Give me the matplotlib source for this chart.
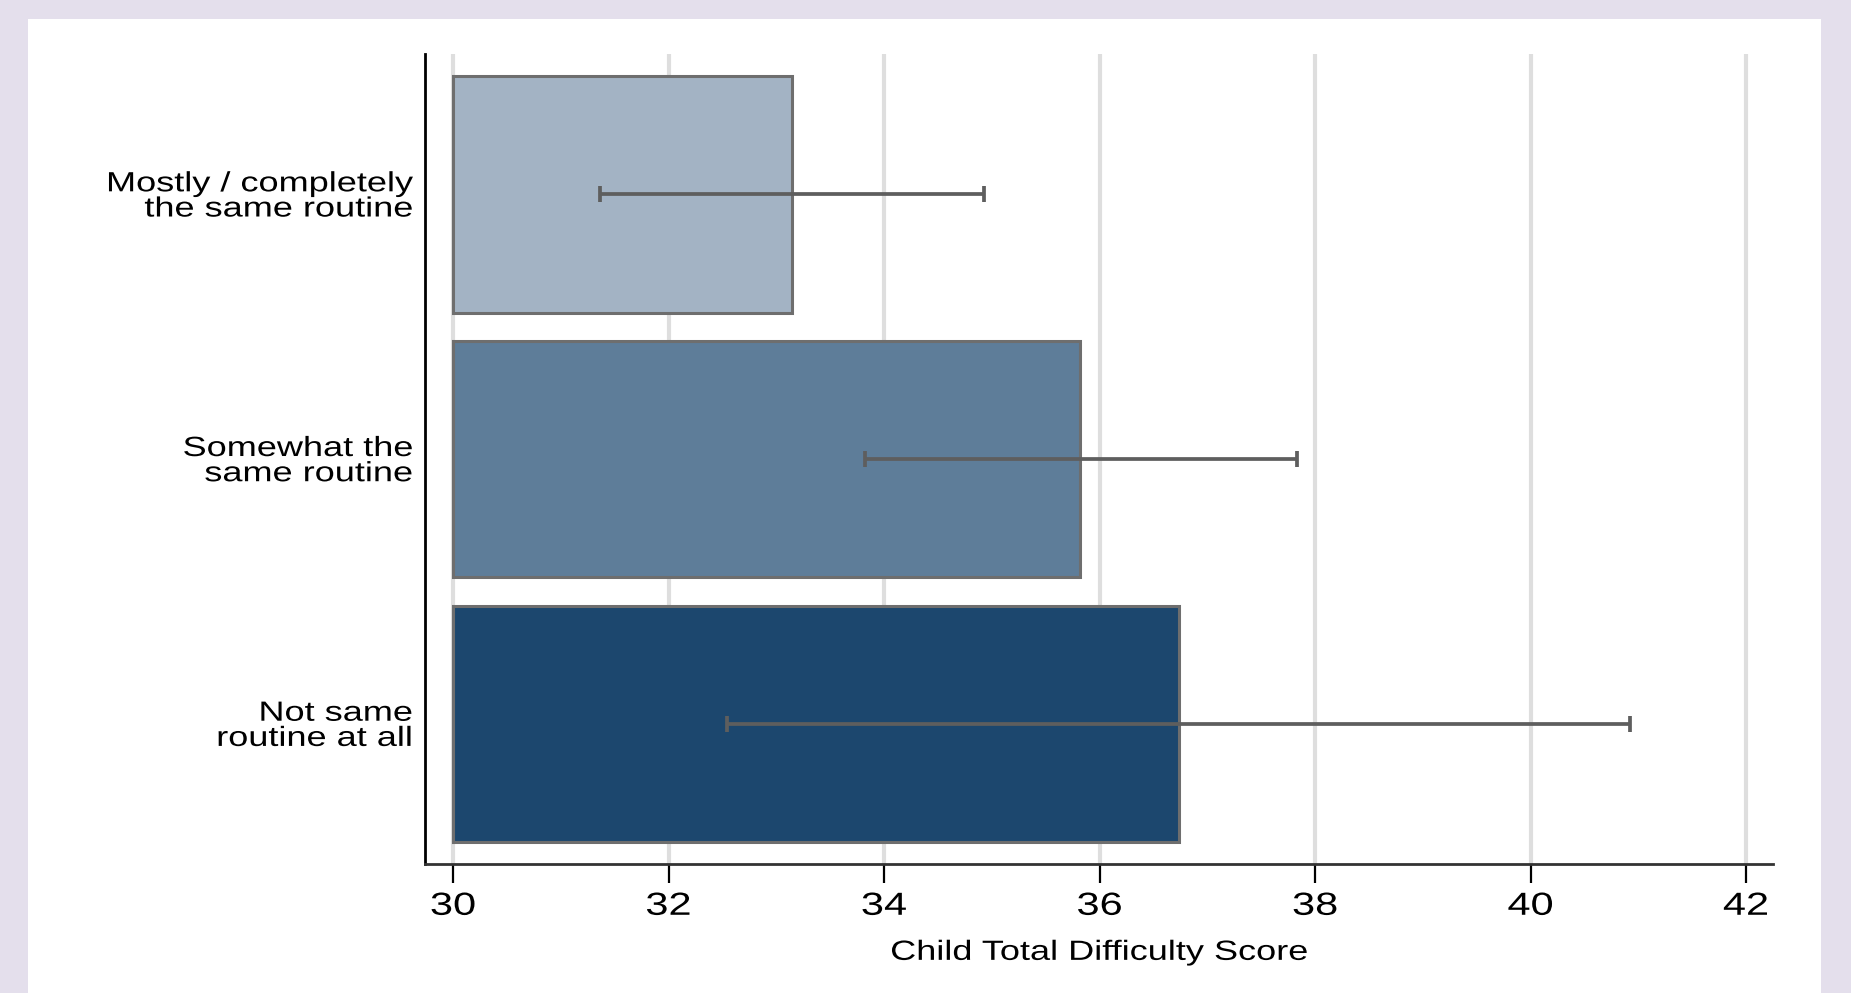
import matplotlib
matplotlib.use("Agg")
import matplotlib.pyplot as plt
from matplotlib.patches import Rectangle
from matplotlib.patheffects import AbstractPathEffect
from matplotlib.transforms import Affine2D

plt.rcParams["font.family"] = ["Liberation Sans", "DejaVu Sans"]

# mean score per routine group with 95% CI
groups = ["Mostly / completely\nthe same routine",
          "Somewhat the\nsame routine",
          "Not same\nroutine at all"]
means = [33.15, 35.82, 36.74]
ci_low = [31.36, 33.82, 32.54]
ci_high = [34.93, 37.83, 40.92]
bar_colors = ["#a3b3c4", "#5e7d99", "#1c476e"]
xticks = [30, 32, 34, 36, 38, 40, 42]


class WideText(AbstractPathEffect):
    """Stretch glyphs horizontally, keeping the text's alignment point fixed."""

    def __init__(self, text, sx=1.3):
        super().__init__()
        self.text = text
        self.sx = sx

    def draw_path(self, renderer, gc, tpath, affine, rgbFace=None):
        bb = self.text.get_window_extent(renderer)
        ha = self.text.get_horizontalalignment()
        x0 = {"left": bb.x0, "right": bb.x1}.get(ha, (bb.x0 + bb.x1) / 2)
        stretch = Affine2D().translate(-x0, 0).scale(self.sx, 1).translate(x0, 0)
        renderer.draw_path(gc, tpath, affine + stretch, rgbFace)


fig = plt.figure(figsize=(18.51, 9.93), dpi=100, facecolor="#e4dfec")
# white card behind the plot
fig.patches.append(Rectangle((28 / 1851, 0), (1821 - 28) / 1851, 1 - 19 / 993,
                             transform=fig.transFigure, facecolor="white",
                             edgecolor="none", zorder=-10))

ax = fig.add_axes([0.2296, 0.1299, 0.9579 - 0.2296, 0.9456 - 0.1299])
ax.set_facecolor("white")

ypos = list(range(len(groups)))
base = 30
ax.barh(ypos, [m - base for m in means], left=base, height=0.893,
        color=bar_colors, edgecolor="#6e6e6e", linewidth=2.2, zorder=2)

xerr = [[m - lo for m, lo in zip(means, ci_low)],
        [hi - m for m, hi in zip(means, ci_high)]]
ax.errorbar(means, ypos, xerr=xerr, fmt="none", ecolor="#5e5e5e",
            elinewidth=2.7, capsize=6, capthick=2.7, zorder=3)

ax.set_xlim(29.74, 42.25)
ax.set_ylim(2.53, -0.53)
ax.set_xticks(xticks)
ax.set_yticks(ypos)
ax.set_yticklabels(groups, fontsize=20, linespacing=0.96)
ax.tick_params(axis="y", length=0, pad=9)
ax.tick_params(axis="x", labelsize=23, length=14, width=1.6, pad=6)
ax.grid(axis="x", color="#dedede", linewidth=3, zorder=0)
ax.set_axisbelow(True)

for side in ["top", "right"]:
    ax.spines[side].set_visible(False)
ax.spines["left"].set_linewidth(2)
ax.spines["left"].set_color("black")
ax.spines["bottom"].set_linewidth(2)
ax.spines["bottom"].set_color("#333333")

xlab = ax.set_xlabel("Child Total Difficulty Score", fontsize=20, labelpad=13)

for t in ax.get_xticklabels() + ax.get_yticklabels() + [xlab]:
    t.set_path_effects([WideText(t, 1.3)])

fig.savefig("out.png", dpi=100, facecolor=fig.get_facecolor())
